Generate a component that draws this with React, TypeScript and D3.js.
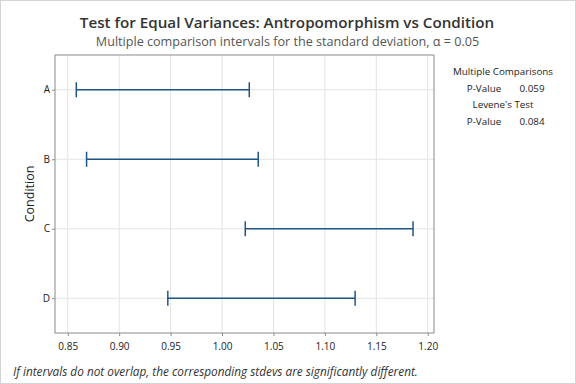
import React, { useEffect, useRef } from 'react';
import * as d3 from 'd3';

const categories = ['A', 'B', 'C', 'D'];
const lowerBounds = [0.8583, 0.8683, 1.0226, 0.9473];
const upperBounds = [1.0265, 1.0352, 1.1857, 1.1294];
const xTicks = [0.85, 0.9, 0.95, 1.0, 1.05, 1.1, 1.15, 1.2];
const statRows = [
  { heading: 'Multiple Comparisons', label: 'P-Value', value: '0.059' },
  { heading: "Levene's Test", label: 'P-Value', value: '0.084' },
];

const FONT = '"Open Sans", "Noto Sans", sans-serif';

export default function App() {
  const ref = useRef<SVGSVGElement>(null);

  useEffect(() => {
    const width = 576;
    const height = 384;
    const margin = { top: 55, left: 55, right: 142, bottom: 51 };
    const graphW = width - margin.left - margin.right;
    const graphH = height - margin.top - margin.bottom;

    const svg = d3.select(ref.current);
    svg.selectAll('*').remove();

    svg.append('rect').attr('x', 0.5).attr('y', 0.5).attr('width', width - 1).attr('height', height - 1)
      .attr('fill', '#fff').attr('stroke', '#d4d4d4');

    const xScale = d3.scaleLinear().domain([0.8376, 1.2061]).range([0, graphW]);
    const yScale = d3.scalePoint().domain(categories).range([0, graphH]).padding(0.5);

    const g = svg.append('g').attr('transform', `translate(${margin.left},${margin.top})`);

    // gridlines
    g.selectAll('.vgrid').data(xTicks).join('line').attr('class', 'vgrid')
      .attr('x1', d => xScale(d)).attr('x2', d => xScale(d)).attr('y1', 0).attr('y2', graphH)
      .attr('stroke', '#e3e3e3');
    g.selectAll('.hgrid').data(categories).join('line').attr('class', 'hgrid')
      .attr('x1', 0).attr('x2', graphW).attr('y1', d => yScale(d)!).attr('y2', d => yScale(d)!)
      .attr('stroke', '#e3e3e3');

    // axes
    const xAxis = g.append('g').attr('transform', `translate(0,${graphH})`)
      .call(d3.axisBottom(xScale).tickValues(xTicks).tickFormat(d3.format('.2f')).tickSize(3).tickSizeOuter(0));
    const yAxis = g.append('g').call(d3.axisLeft(yScale).tickSize(3).tickSizeOuter(0));
    [xAxis, yAxis].forEach(ax => {
      ax.select('.domain').remove();
      ax.selectAll('line').attr('stroke', '#8a8a8a');
      ax.selectAll('text').attr('fill', '#222').style('font-family', FONT).style('font-size', '10px');
    });
    xAxis.selectAll('text').attr('dy', '1.1em');
    yAxis.selectAll('text').attr('x', -5);

    // frame
    g.append('rect').attr('x', 0).attr('y', 0).attr('width', graphW).attr('height', graphH)
      .attr('fill', 'none').attr('stroke', '#8a8a8a');

    // intervals
    const data = categories.map((c, i) => ({ c, lo: lowerBounds[i], hi: upperBounds[i] }));
    const color = '#1f5584';
    const capH = 7.5;
    g.selectAll('.ci').data(data).join('line').attr('class', 'ci')
      .attr('x1', d => xScale(d.lo)).attr('x2', d => xScale(d.hi))
      .attr('y1', d => yScale(d.c)!).attr('y2', d => yScale(d.c)!)
      .attr('stroke', color).attr('stroke-width', 1.5);
    g.selectAll('.cap').data(data.flatMap(d => [{ c: d.c, v: d.lo }, { c: d.c, v: d.hi }])).join('line')
      .attr('class', 'cap')
      .attr('x1', d => xScale(d.v)).attr('x2', d => xScale(d.v))
      .attr('y1', d => yScale(d.c)! - capH).attr('y2', d => yScale(d.c)! + capH)
      .attr('stroke', color).attr('stroke-width', 1.5);

    // titles
    svg.append('text').attr('x', 287).attr('y', 28).attr('text-anchor', 'middle')
      .style('font-family', FONT).style('font-size', '15.2px').style('font-weight', 600).attr('fill', '#333')
      .text('Test for Equal Variances: Antropomorphism vs Condition');
    svg.append('text').attr('x', 287.5).attr('y', 46).attr('text-anchor', 'middle')
      .style('font-family', FONT).style('font-size', '12.6px').attr('fill', '#555')
      .text('Multiple comparison intervals for the standard deviation, α = 0.05');

    svg.append('text').attr('transform', `translate(34,${margin.top + graphH / 2}) rotate(-90)`)
      .attr('text-anchor', 'middle').style('font-family', FONT).style('font-size', '12.5px').attr('fill', '#222')
      .text('Condition');

    // side stats
    const sx = 503;
    statRows.forEach((r, i) => {
      const y0 = 75 + i * 33;
      svg.append('text').attr('x', sx).attr('y', y0).attr('text-anchor', 'middle')
        .style('font-family', FONT).style('font-size', '9.8px').attr('fill', '#222').text(r.heading);
      svg.append('text').attr('x', 484).attr('y', y0 + 17).attr('text-anchor', 'middle')
        .style('font-family', FONT).style('font-size', '9.8px').attr('fill', '#222').text(r.label);
      svg.append('text').attr('x', 532).attr('y', y0 + 17).attr('text-anchor', 'middle')
        .style('font-family', FONT).style('font-size', '9.8px').attr('fill', '#222').text(r.value);
    });

    svg.append('text').attr('x', 13).attr('y', 376)
      .style('font-family', FONT).style('font-size', '11.8px').style('font-style', 'italic').attr('fill', '#333')
      .text('If intervals do not overlap, the corresponding stdevs are significantly different.');
  }, []);

  return (
    <div style={{ position: 'fixed', left: 0, top: 0 }}>
      <svg ref={ref} width={576} height={384} style={{ display: 'block' }}></svg>
    </div>
  );
}
